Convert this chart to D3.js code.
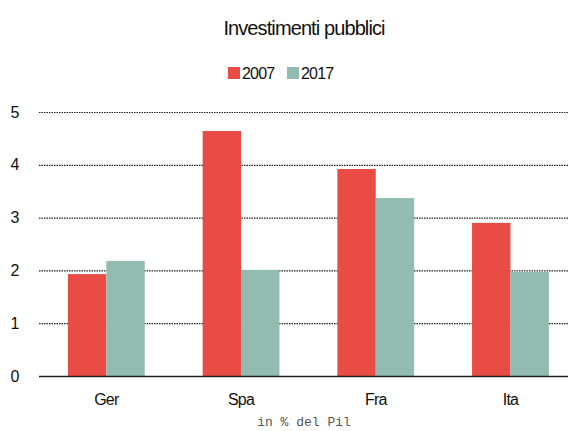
<!DOCTYPE html>
<html>
<head>
<meta charset="utf-8">
<script src="https://cdn.jsdelivr.net/npm/d3@7"></script>
<style>
  body { margin: 0; background: #fff; }
  text { font-family: "Liberation Sans", Arial, sans-serif; fill: #111; }
</style>
</head>
<body>
<svg id="chart" width="570" height="431"></svg>
<script>
// data
const categories = ["Ger", "Spa", "Fra", "Ita"];
const seriesNames = ["2007", "2017"];
const values2007 = [1.93, 4.64, 3.92, 2.90];
const values2017 = [2.18, 2.01, 3.37, 1.97];
const yTicks = [0, 1, 2, 3, 4, 5];
const colors = ["#E84C44", "#92BCB1"];

const svg = d3.select("#chart");
const margin = { left: 39, right: 2, top: 112, bottom: 55 };
const W = 570, H = 431;

const x0 = d3.scaleBand()
      .domain(categories)
      .range([margin.left, margin.left + 4 * 134.7])
      .paddingInner(0.43)
      .paddingOuter(0.215);

const x1 = d3.scaleBand()
      .domain(seriesNames)
      .range([0, x0.bandwidth()]);

const y = d3.scaleLinear()
      .domain([0, 5])
      .range([H - margin.bottom, margin.top]);

// gridlines
svg.append("g").selectAll("line")
      .data(yTicks.filter(t => t > 0)).enter()
      .append("line")
      .attr("x1", margin.left)
      .attr("x2", W - margin.right)
      .attr("y1", d => y(d) + 0.5)
      .attr("y2", d => y(d) + 0.5)
      .attr("stroke", "#222")
      .attr("stroke-width", 1.2)
      .attr("stroke-dasharray", "1.5,1");

// y labels
svg.append("g").selectAll("text")
      .data(yTicks).enter()
      .append("text")
      .attr("x", 15)
      .attr("y", d => y(d))
      .attr("dy", "0.35em")
      .attr("text-anchor", "middle")
      .attr("font-size", "16px")
      .text(d => d);

// bars
const rows = categories.map((c, i) => ({ cat: c, vals: [values2007[i], values2017[i]] }));
const groups = svg.append("g").selectAll("g")
      .data(rows).enter()
      .append("g")
      .attr("transform", d => `translate(${x0(d.cat)},0)`);

groups.selectAll("rect")
      .data(d => d.vals.map((v, k) => ({ key: seriesNames[k], v: v, k: k })))
      .enter()
      .append("rect")
      .attr("x", d => x1(d.key))
      .attr("y", d => y(d.v))
      .attr("width", x1.bandwidth())
      .attr("height", d => y(0) - y(d.v))
      .attr("fill", d => colors[d.k]);

// baseline
svg.append("line")
      .attr("x1", margin.left)
      .attr("x2", W - margin.right)
      .attr("y1", y(0) + 0.5)
      .attr("y2", y(0) + 0.5)
      .attr("stroke", "#222")
      .attr("stroke-width", 1.5);

// category labels
svg.append("g").selectAll("text")
      .data(categories).enter()
      .append("text")
      .attr("x", d => x0(d) + x0.bandwidth() / 2)
      .attr("y", 405)
      .attr("text-anchor", "middle")
      .attr("font-size", "16px")
      .attr("letter-spacing", "-0.8px")
      .text(d => d);

// title
svg.append("text")
      .attr("x", 304)
      .attr("y", 35)
      .attr("text-anchor", "middle")
      .attr("font-size", "20px")
      .attr("letter-spacing", "-0.9px")
      .text("Investimenti pubblici");

// legend
const legendX = [228, 287];
const legend = svg.append("g").selectAll("g")
      .data(seriesNames).enter()
      .append("g")
      .attr("transform", (d, i) => `translate(${legendX[i]},67)`);
legend.append("rect")
      .attr("width", 12)
      .attr("height", 12)
      .attr("fill", (d, i) => colors[i]);
legend.append("text")
      .attr("x", 14)
      .attr("y", 12)
      .attr("font-size", "16px")
      .attr("letter-spacing", "-0.8px")
      .text(d => d);

// footnote
svg.append("text")
      .attr("x", 304)
      .attr("y", 426)
      .attr("text-anchor", "middle")
      .attr("font-size", "13px")
      .style("font-family", "'Liberation Mono', 'Courier New', monospace")
      .style("fill", "#555")
      .text("in % del Pil");
</script>
</body>
</html>
